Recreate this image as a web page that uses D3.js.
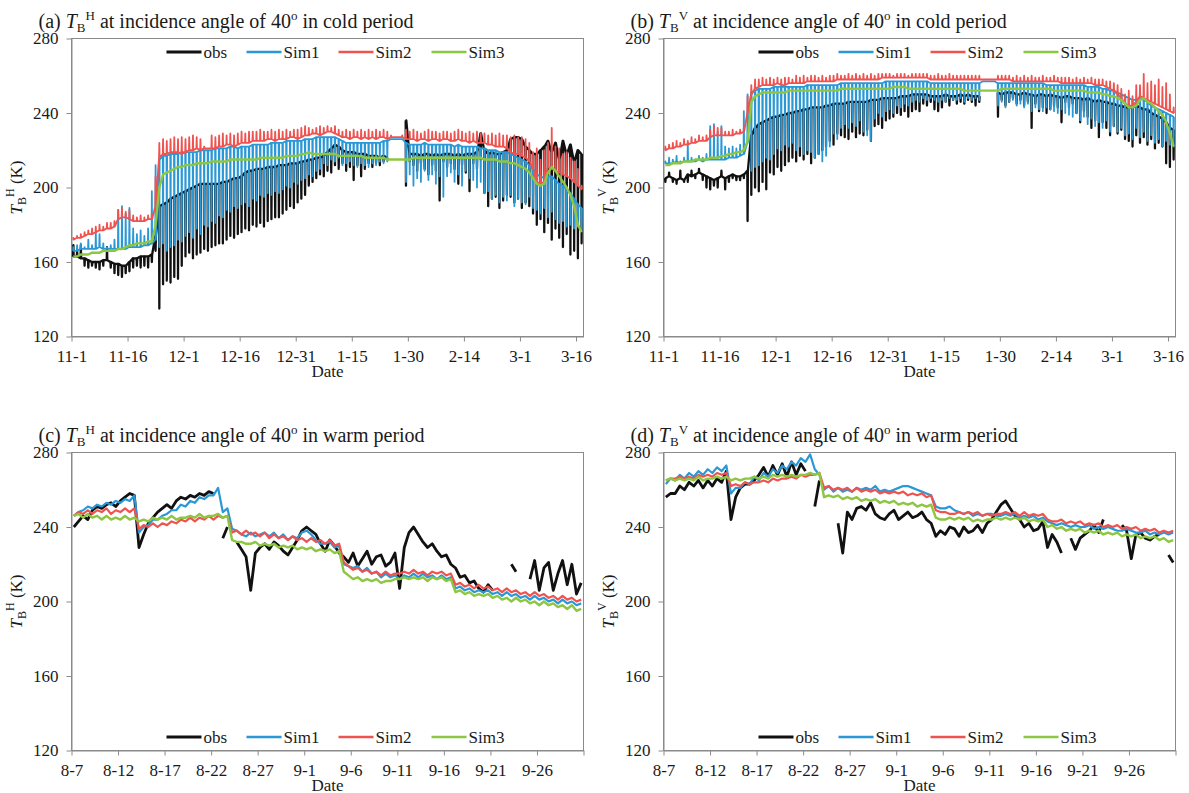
<!DOCTYPE html>
<html>
<head>
<meta charset="utf-8">
<script src="https://cdn.jsdelivr.net/npm/d3@7"></script>
<style>
  body { margin: 0; background: #fff; }
  svg { display: block; font-family: "Liberation Serif", "Times New Roman", serif; }
</style>
</head>
<body>
<svg id="chart" width="1189" height="793"></svg>
<script>
// Axis labels
const coldTickLabels = ["11-1", "11-16", "12-1", "12-16", "12-31", "1-15", "1-30", "2-14", "3-1", "3-16"];
const warmTickLabels = ["8-7", "8-12", "8-17", "8-22", "8-27", "9-1", "9-6", "9-11", "9-16", "9-21", "9-26", ""];
const yTicks = [120, 160, 200, 240, 280];
const seriesNames = ["obs", "Sim1", "Sim2", "Sim3"];

// ---- (a) TB-H cold period, one base + one daily spike value per day (11-1 .. 3-17) ----
const obsA_base = [
  163,163,162,162,161,160,160,160,161,161, 160,159,159,158,158,160,162,162,163,163,
  163,164,174,190,191,192,194,195,196,197, 198,199,200,201,202,202,202,202,202,202,
  203,203,204,205,205,206,208,209,209,210, 210,210,211,211,211,212,212,212,213,213,
  213,214,214,215,215,216,216,217,219,221, 223,222,220,219,219,219,218,218,218,217,
  217,217,216,217,216,null,null,null,null,236, 218,218,218,217,218,218,217,218,217,218,
  218,218,217,218,217,218,218,218,219,229, 220,218,219,218,218,219,220,226,227,227,
  226,222,220,218,218,220,222,225,219,224, 215,225,218,223,214,220,218];
const obsA_spike = [
  169,166,169,158,157,158,157,156,158,168, 157,154,153,152,154,155,157,158,157,158,
  157,160,166,135,148,150,149,152,151,158, 163,165,162,164,165,167,166,168,169,170,
  170,172,174,173,175,176,178,177,180,179, 181,179,182,183,184,184,186,188,190,189,
  192,194,196,201,203,205,207,206,209,208, 212,210,213,209,211,204,212,206,210,213,
  211,213,212,214,215,null,null,null,null,201, 214,212,209,213,210,207,212,209,193,214,
  211,213,210,202,212,208,198,213,210,215, 197,190,194,195,189,193,196,195,192,194,
  189,192,190,186,180,183,176,181,172,178, 173,168,175,164,166,162,170];
const sim1A_base = [
  166,166,167,167,167,167,167,168,167,167, 167,167,167,167,167,168,168,168,168,169,
  169,170,172,215,217,217,218,218,218,219, 219,219,219,219,220,220,220,220,221,221,
  221,221,222,222,221,222,222,222,223,223, 223,223,223,224,224,224,224,225,225,225,
  225,225,226,226,226,227,227,227,227,227, 227,226,225,224,224,224,224,224,224,224,
  224,224,224,225,225,226,226,226,226,224, 223,223,223,223,224,223,223,223,223,223,
  223,223,222,223,222,222,222,222,222,221, 221,220,220,220,219,219,219,218,217,216,
  215,214,212,210,207,206,205,206,206,204, 202,201,199,197,194,191,189];
const sim1A_spike = [
  168,169,170,168,172,169,176,175,170,168, 169,172,188,190,186,189,178,175,177,174,
  178,198,212,168,170,166,168,169,172,171, 174,176,173,178,175,180,179,182,181,185,
  184,188,187,190,189,191,192,190,194,193, 196,195,197,196,198,197,199,201,200,203,
  202,204,205,207,206,209,210,213,212,215, 214,216,212,213,214,212,211,213,212,211,
  213,212,214,213,214,226,226,226,226,203, 207,201,205,203,209,204,207,202,206,195,
  206,208,203,207,201,209,205,204,200,203, 197,198,194,196,192,195,193,196,190,194,
  192,191,195,189,188,186,189,184,187,183, 181,182,179,180,178,179,177];
const sim2A_base = [
  172,173,173,174,175,175,176,177,177,178, 178,179,183,184,184,183,182,182,182,182,
  183,183,190,216,218,218,219,219,219,218, 219,220,220,221,220,221,221,221,221,222,
  222,223,223,222,223,224,224,224,225,225, 225,225,226,226,225,226,226,226,227,227,
  226,227,228,228,229,229,228,229,230,230, 229,228,227,227,226,227,227,226,227,226,
  227,226,227,227,226,227,227,227,227,226, 226,226,225,226,226,225,226,226,225,226,
  226,225,225,226,225,225,224,225,224,224, 224,223,223,222,222,222,221,219,218,218,
  217,216,214,210,203,202,203,211,210,209, 208,207,206,205,203,201,199];
const sim2A_spike = [
  173,174,175,176,177,178,179,180,179,181, 181,182,188,189,187,188,185,184,185,184,
  185,186,206,224,226,225,226,227,226,227, 226,227,228,227,226,222,221,228,227,228,
  229,228,229,228,229,230,229,230,230,230, 231,230,230,231,230,231,230,231,230,231,
  231,232,233,232,231,232,233,232,233,232, 233,231,230,231,230,231,230,231,230,231,
  230,231,230,231,230,228,227,227,228,231, 230,231,230,229,230,231,230,230,229,230,
  230,229,230,231,230,229,230,229,230,229, 229,228,229,228,229,228,228,227,228,227,
  227,226,224,219,221,215,220,224,232,222, 221,218,219,216,214,210,201];
const sim3A = [
  163,163,164,164,164,165,165,165,166,166, 166,166,167,167,168,169,169,170,170,170,
  171,171,180,200,207,208,209,210,211,211, 212,212,212,213,213,213,213,214,214,214,
  214,214,215,215,215,215,215,215,215,215, 216,216,216,216,216,216,216,217,217,217,
  217,218,218,219,218,218,218,218,218,218, 218,217,217,217,217,217,217,217,216,216,
  216,216,216,216,215,215,215,215,215,215, 215,216,216,216,216,216,216,216,216,216,
  216,216,216,216,216,216,216,216,216,216, 215,215,215,215,214,214,214,213,213,212,
  211,210,208,205,202,201,202,208,211,209, 206,203,200,196,190,180,176];

// ---- (b) TB-V cold period ----
const obsB_base = [
  205,206,205,204,205,204,207,206,207,208, 207,206,205,204,205,206,205,206,207,206,
  206,207,209,228,232,234,235,236,237,238, 238,239,239,240,240,241,241,242,242,243,
  243,243,243,244,244,245,245,245,245,246, 246,246,246,246,246,247,247,247,248,248,
  248,248,248,249,249,249,250,250,250,250, 250,249,249,249,249,250,249,249,249,250,
  249,250,249,249,249,null,null,null,null,251, 250,251,251,251,250,250,251,250,250,249,
  250,250,249,250,249,249,248,249,249,248, 248,248,247,248,247,246,247,246,246,245,
  245,244,244,243,243,243,244,243,242,242, 240,239,238,237,235,232,231];
const obsB_spike = [
  203,208,203,202,209,203,203,209,205,210, 204,200,199,201,200,209,199,203,205,204,
  204,205,182,196,200,198,203,199,208,207, 211,209,212,214,216,214,217,215,218,213,
  216,218,220,222,225,223,229,228,227,226, 230,227,229,228,231,225,233,234,232,236,
  237,238,240,239,241,238,241,242,241,245, 244,246,242,241,243,246,244,247,245,246,
  245,247,246,244,246,null,null,null,null,238, 247,244,246,248,245,247,244,246,232,245,
  241,243,240,242,244,243,235,246,243,245, 240,235,241,238,232,236,227,235,232,228,
  233,229,231,226,225,222,228,224,227,223, 226,221,224,222,213,211,215];
const sim1B_base = [
  213,213,213,214,213,214,214,214,214,215, 214,215,215,215,215,215,215,216,216,216,
  217,218,224,251,252,253,253,253,253,254, 254,254,254,254,254,254,254,254,255,255,
  255,255,255,255,255,255,255,256,256,256, 256,256,256,256,256,256,256,256,256,257,
  257,257,257,257,257,257,257,257,257,257, 257,256,256,256,256,256,256,256,256,256,
  256,256,256,256,256,257,257,257,257,256, 256,256,256,256,256,256,256,256,256,256,
  256,256,255,255,255,255,255,255,255,255, 255,255,255,254,254,254,254,253,253,252,
  252,251,250,249,248,247,247,248,247,246, 244,243,242,241,240,239,238];
const sim1B_spike = [
  214,216,215,217,214,216,224,216,215,217, 216,218,233,234,230,233,222,221,222,221,
  223,241,250,209,211,212,214,216,215,218, 221,220,223,222,224,220,222,218,220,219,
  216,218,214,217,222,229,226,232,234,232, 235,233,236,230,228,225,237,240,238,241,
  242,240,244,243,245,244,246,247,246,248, 247,248,247,246,247,246,248,247,247,248,
  246,248,247,248,247,257,257,257,257,244, 246,243,246,247,244,245,243,245,241,243,
  242,241,243,242,241,240,242,240,239,238, 240,236,238,234,237,233,235,232,236,230,
  233,230,232,228,229,226,232,227,230,225, 228,224,226,222,225,223,222];
const sim2B_base = [
  220,221,221,222,222,223,223,224,224,225, 225,225,227,228,228,228,228,228,228,229,
  229,230,240,250,253,254,255,255,255,255, 256,255,255,256,256,256,256,256,257,257,
  257,257,257,257,257,257,258,258,258,258, 258,258,258,258,258,258,258,258,259,259,
  259,259,259,259,259,259,259,259,259,259, 259,258,258,258,258,258,258,258,258,258,
  258,258,258,258,258,258,258,258,258,258, 258,258,258,257,257,257,257,257,257,257,
  257,257,257,257,257,257,256,256,256,256, 256,256,256,256,256,255,255,255,254,253,
  252,250,248,245,244,244,246,249,248,247, 246,245,244,243,242,241,240];
const sim2B_spike = [
  222,223,224,225,224,226,225,227,226,228, 227,228,231,233,232,232,230,230,231,230,
  231,232,249,255,258,258,259,258,259,258, 259,258,259,259,258,260,259,260,259,260,
  260,259,260,259,260,260,261,260,260,261, 260,261,260,261,260,261,260,261,261,261,
  261,260,261,261,261,260,261,261,261,261, 261,260,260,261,260,260,261,260,260,260,
  260,260,260,260,260,258,258,258,258,260, 260,260,260,259,260,259,260,259,260,259,
  259,260,259,259,260,259,259,259,259,258, 259,258,259,258,259,258,258,258,257,257,
  256,255,253,250,252,249,255,255,261,256, 257,255,258,254,256,250,243];
const sim3B = [
  212,212,213,213,213,214,214,214,215,215, 215,215,216,216,216,217,217,218,218,219,
  219,220,225,246,249,250,251,251,251,251, 251,251,251,252,252,252,252,252,252,252,
  252,252,252,252,252,252,252,253,253,253, 253,253,253,253,253,253,253,253,253,253,
  253,254,254,254,254,253,253,253,253,253, 253,253,253,253,253,253,253,253,253,253,
  252,252,252,252,252,252,252,252,252,252, 253,253,253,253,253,253,253,253,253,253,
  253,253,253,253,252,252,252,252,252,252, 252,252,252,251,251,251,251,250,250,249,
  249,248,247,245,243,243,244,247,248,246, 245,243,241,239,235,229,222];

// ---- (c) TB-H warm period, two readings per day (8-7 .. 9-30) ----
const obsC = [
  240,243, 246,244, 249,251, 250,252, 253,251,  254,256, 258,257, 229,236, 242,245, 248,250,
  252,250, 254,256, 255,257, 256,258, 257,259,  258,null, 234,240, null,232, 228,224, 206,226,
  229,231, 228,232, 230,227, 225,229, 233,238,  240,238, 236,231, 227,233, 230,226, 224,221,
  226,219, 223,227, 220,224, 225,219, 221,226,  207,229, 237,240, 236,232, 229,231, 227,224,
  225,220, 218,213, 214,210, 211,207, 205,209,  206,null, null,null, 220,216, null,null, 212,222,
  206,218, 221,206, 215,222, 209,220, 204,210];
const sim1C = [
  246,248, 249,251, 250,252, 251,253, 252,254,  253,255, 254,257, 237,240, 241,244, 244,246,
  247,249, 249,252, 251,254, 253,256, 255,257,  257,261, 248,250, 239,238, 236,235, 237,235,
  236,237, 235,237, 234,236, 233,235, 234,237,  238,236, 233,231, 231,232, 229,230, 220,219,
  218,219, 216,218, 215,216, 213,215, 213,214,  212,214, 213,215, 213,215, 213,214, 212,214,
  212,213, 207,208, 206,207, 205,206, 205,206,  204,205, 203,205, 203,204, 202,203, 201,203,
  201,202, 200,201, 199,201, 199,200, 198,199];
const sim2C = [
  246,248, 247,249, 247,249, 248,250, 247,249,  248,250, 248,250, 239,241, 240,242, 240,242,
  241,243, 242,244, 243,245, 243,245, 244,246,  244,246, 245,246, 237,238, 236,238, 236,237,
  235,237, 234,236, 234,235, 233,235, 233,234,  232,234, 232,233, 231,233, 230,231, 221,219,
  217,218, 216,217, 215,216, 214,216, 214,215,  215,216, 215,217, 215,216, 214,216, 215,216,
  214,215, 209,210, 208,209, 207,209, 207,208,  206,207, 205,207, 205,206, 204,205, 203,205,
  203,204, 202,203, 201,203, 201,202, 200,201];
const sim3C = [
  246,247, 245,247, 245,246, 244,246, 244,245,  244,246, 244,245, 243,244, 243,245, 244,245,
  244,246, 244,245, 245,246, 245,247, 245,246,  246,247, 245,246, 233,232, 232,231, 231,232,
  230,231, 230,231, 229,230, 229,230, 228,229,  228,229, 227,228, 227,228, 226,227, 216,214,
  212,213, 211,212, 211,212, 210,211, 211,212,  212,213, 212,213, 212,213, 211,213, 212,213,
  211,212, 205,206, 204,205, 203,204, 203,204,  202,203, 201,202, 200,202, 200,201, 199,200,
  198,200, 198,199, 197,198, 196,198, 195,196];

// ---- (d) TB-V warm period ----
const obsD = [
  256,258, 258,262, 260,264, 262,265, 261,265,  262,266, 264,270, 244,256, 261,263, 263,265,
  268,272, 267,273, 268,274, 267,275, 268,274,  270,null, 251,265, null,null, null,242, 226,248,
  244,250, 251,249, 253,247, 245,244, 247,249,  244,246, 248,245, 246,248, 244,242, 235,238,
  236,240, 239,235, 240,237, 238,241, 237,242,  244,248, 252,254, 250,246, 244,240, 242,238,
  239,243, 229,236, 232,226, null,234, 228,234,  236,238, 241,237, 244,null, null,null, 241,238,
  223,236, 237,234, 233,235, 236,null, 225,221];
const sim1D = [
  263,266, 265,268, 266,269, 267,270, 268,271,  269,272, 270,273, 258,261, 261,264, 263,267,
  265,269, 267,271, 269,273, 271,275, 273,277,  275,279, 271,268, 260,262, 259,261, 259,260,
  259,261, 260,261, 260,262, 259,260, 259,260,  261,262, 262,261, 260,259, 258,257, 251,250,
  250,251, 249,248, 247,248, 246,247, 246,247,  247,246, 246,247, 246,247, 245,246, 245,246,
  244,245, 243,242, 241,242, 241,240, 241,240,  240,241, 239,240, 239,240, 239,238, 238,239,
  238,237, 237,238, 236,237, 236,237, 236,237];
const sim2D = [
  265,266, 266,267, 266,267, 266,268, 267,268,  267,269, 268,269, 262,263, 262,264, 263,264,
  264,265, 264,266, 265,266, 266,267, 266,268,  267,268, 268,269, 261,262, 260,261, 260,261,
  259,261, 259,260, 259,260, 258,259, 258,259,  258,259, 257,258, 257,258, 256,257, 249,248,
  248,247, 247,248, 247,248, 247,248, 246,247,  246,247, 247,248, 247,248, 246,248, 246,247,
  246,247, 244,243, 243,244, 242,243, 242,243,  241,242, 241,242, 240,241, 240,241, 239,240,
  239,240, 238,239, 238,239, 237,238, 237,238];
const sim3D = [
  265,266, 265,266, 265,266, 265,267, 265,266,  266,267, 266,267, 265,266, 265,266, 266,267,
  266,267, 266,268, 267,268, 267,268, 267,268,  268,269, 268,269, 256,257, 256,257, 255,256,
  255,256, 254,255, 254,255, 253,254, 253,254,  252,253, 252,253, 251,252, 251,252, 245,244,
  244,245, 244,245, 244,245, 243,244, 243,244,  244,245, 244,245, 244,245, 244,245, 243,244,
  243,244, 240,241, 239,240, 238,239, 238,239,  237,238, 237,238, 236,237, 236,237, 235,236,
  235,236, 234,235, 234,235, 233,234, 232,233];

// Colours / styles
const colors = { obs: "#111111", Sim1: "#2b98d6", Sim2: "#ef5350", Sim3: "#8dc641" };
const widths = { obs: 2.8, Sim1: 2.2, Sim2: 2.2, Sim3: 2.4 };
const spikeWidths = { obs: 2.3, Sim1: 1.8, Sim2: 1.8 };
const axisColor = "#8a8a8a";
const textColor = "#1a1a1a";
const TICK_FONT = "17px";
const LABEL_FONT = "17px";

const svg = d3.select("#chart");

// Daily spike: base -> spike -> base inside a narrow slot of the day
function spikePoints(base, spike) {
  const pts = [];
  base.forEach((b, d) => {
    const s = spike[d];
    if (b == null || s == null) { pts.push({ t: d + 0.5, v: null }); return; }
    pts.push({ t: d + 0.42, v: b }, { t: d + 0.5, v: s }, { t: d + 0.58, v: b });
  });
  return pts;
}
function dailyPoints(vals) { return vals.map((v, d) => ({ t: d + 0.5, v })); }
function halfDayPoints(vals) { return vals.map((v, i) => ({ t: i * 0.5 + 0.25, v })); }

function addPolLabel(sel, pol, big, small) {
  sel.append("tspan").attr("font-style", "italic").attr("font-size", big).text("T");
  sel.append("tspan").attr("font-size", small).attr("dy", 4).text("B");
  sel.append("tspan").attr("font-size", small).attr("dy", -12).text(pol);
}

function drawPanel(cfg) {
  const x = d3.scaleLinear().domain([0, cfg.days]).range([cfg.left, cfg.right]);
  const y = d3.scaleLinear().domain([120, 280]).range([cfg.bottom, cfg.top]);
  const g = svg.append("g");

  // Title
  const title = g.append("text").attr("x", cfg.left - 33).attr("y", cfg.top - 11)
    .attr("font-size", 20).attr("fill", textColor);
  title.append("tspan").text(`(${cfg.letter}) `);
  addPolLabel(title, cfg.pol, 20, 13);
  title.append("tspan").attr("dy", 8).text(" at incidence angle of 40");
  title.append("tspan").attr("font-size", 13).attr("dy", -8).text("o");
  title.append("tspan").attr("dy", 8).text(` in ${cfg.period} period`);

  // Axes
  const xAxis = d3.axisBottom(x)
    .tickValues(cfg.tickLabels.map((_, i) => i * cfg.step))
    .tickFormat((d, i) => cfg.tickLabels[i])
    .tickSize(5).tickPadding(8).tickSizeOuter(0);
  const yAxis = d3.axisLeft(y).tickValues(yTicks).tickSize(5).tickPadding(8).tickSizeOuter(0);

  const gx = g.append("g").attr("transform", `translate(0,${cfg.bottom})`).call(xAxis);
  const gy = g.append("g").attr("transform", `translate(${cfg.left},0)`).call(yAxis);
  [gx, gy].forEach(a => {
    a.attr("font-family", null).attr("font-size", null);
    a.selectAll("path, line").attr("stroke", axisColor);
    a.selectAll("text").style("font-size", TICK_FONT).attr("fill", textColor);
  });

  // Plot frame (top and right edges)
  g.append("rect").attr("x", cfg.left).attr("y", cfg.top)
    .attr("width", cfg.right - cfg.left).attr("height", cfg.bottom - cfg.top)
    .attr("fill", "none").attr("stroke", axisColor);

  // Axis titles
  g.append("text").attr("x", (cfg.left + cfg.right) / 2).attr("y", cfg.bottom + 40)
    .attr("text-anchor", "middle").style("font-size", LABEL_FONT).attr("fill", textColor).text("Date");
  const yt = g.append("text")
    .attr("transform", `translate(${cfg.left - 50},${(cfg.top + cfg.bottom) / 2}) rotate(-90)`)
    .attr("text-anchor", "middle").attr("fill", textColor);
  addPolLabel(yt, cfg.pol, 17, 12);
  yt.append("tspan").attr("font-size", 17).attr("dy", 8).text(" (K)");

  // Series (obs first, Sim3 on top)
  const line = d3.line().defined(p => p.v != null).x(p => x(p.t)).y(p => y(p.v));
  cfg.series.forEach(s => {
    const w = s.spiky ? spikeWidths[s.name] : widths[s.name];
    g.append("path").datum(s.points)
      .attr("fill", "none").attr("stroke", colors[s.name]).attr("stroke-width", w)
      .attr("stroke-linejoin", "round").attr("d", line);
  });

  // Legend
  const lg = g.append("g").attr("transform", `translate(${cfg.left},${cfg.legendY})`);
  const offsets = [95, 175, 267, 360];
  seriesNames.forEach((name, i) => {
    lg.append("line").attr("x1", offsets[i]).attr("x2", offsets[i] + 35)
      .attr("stroke", colors[name]).attr("stroke-width", name === "obs" ? 3 : 2.5);
    lg.append("text").attr("x", offsets[i] + 37).attr("y", 6)
      .style("font-size", LABEL_FONT).attr("fill", textColor).text(name);
  });
}

const coldBase = { days: 137, step: 15, tickLabels: coldTickLabels, period: "cold", top: 38.5, bottom: 336.5, legendY: 52 };
const warmBase = { days: 55, step: 5, tickLabels: warmTickLabels, period: "warm", top: 452.5, bottom: 750.5, legendY: 737 };

drawPanel(Object.assign({}, coldBase, {
  letter: "a", pol: "H", left: 71.5, right: 583.5,
  series: [
    { name: "obs", spiky: true, points: spikePoints(obsA_base, obsA_spike) },
    { name: "Sim1", spiky: true, points: spikePoints(sim1A_base, sim1A_spike) },
    { name: "Sim2", spiky: true, points: spikePoints(sim2A_base, sim2A_spike) },
    { name: "Sim3", points: dailyPoints(sim3A) }
  ]
}));
drawPanel(Object.assign({}, coldBase, {
  letter: "b", pol: "V", left: 663.5, right: 1175.5,
  series: [
    { name: "obs", spiky: true, points: spikePoints(obsB_base, obsB_spike) },
    { name: "Sim1", spiky: true, points: spikePoints(sim1B_base, sim1B_spike) },
    { name: "Sim2", spiky: true, points: spikePoints(sim2B_base, sim2B_spike) },
    { name: "Sim3", points: dailyPoints(sim3B) }
  ]
}));
drawPanel(Object.assign({}, warmBase, {
  letter: "c", pol: "H", left: 71.5, right: 583.5,
  series: [
    { name: "obs", points: halfDayPoints(obsC) },
    { name: "Sim1", points: halfDayPoints(sim1C) },
    { name: "Sim2", points: halfDayPoints(sim2C) },
    { name: "Sim3", points: halfDayPoints(sim3C) }
  ]
}));
drawPanel(Object.assign({}, warmBase, {
  letter: "d", pol: "V", left: 663.5, right: 1175.5,
  series: [
    { name: "obs", points: halfDayPoints(obsD) },
    { name: "Sim1", points: halfDayPoints(sim1D) },
    { name: "Sim2", points: halfDayPoints(sim2D) },
    { name: "Sim3", points: halfDayPoints(sim3D) }
  ]
}));
</script>
</body>
</html>
